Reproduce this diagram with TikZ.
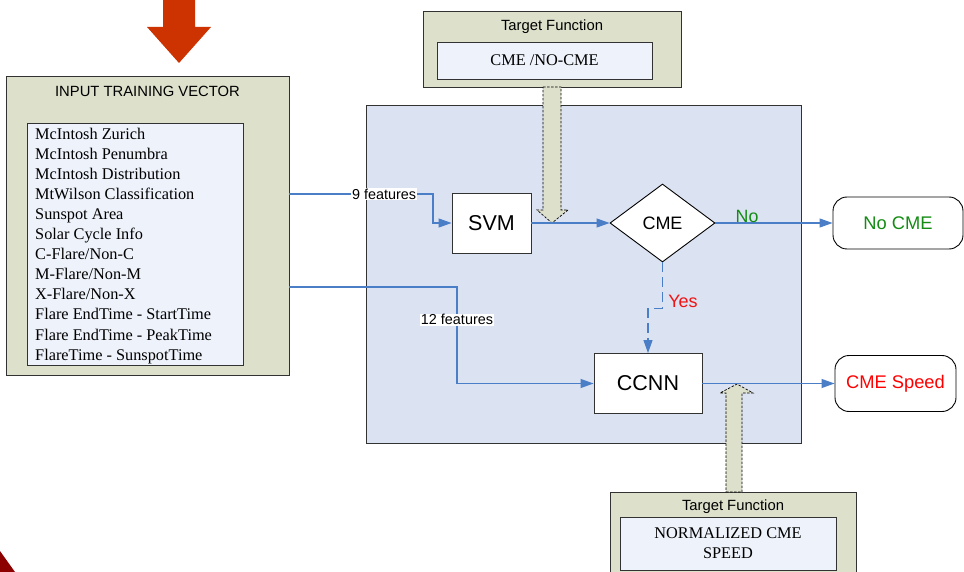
\documentclass[tikz,border=0pt]{standalone}
\usepackage{fontspec}
\setmainfont{Liberation Serif}
\setsansfont{Liberation Sans}
\usetikzlibrary{shapes.geometric,arrows.meta}
\definecolor{olivebox}{RGB}{221,224,203}
\definecolor{innerbox}{RGB}{238,242,250}
\definecolor{regionblue}{RGB}{219,226,241}
\definecolor{lineblue}{RGB}{74,126,198}
\definecolor{bigred}{RGB}{204,51,0}
\definecolor{darkred}{RGB}{140,0,0}
\definecolor{nogreen}{RGB}{20,140,20}
\definecolor{yesred}{RGB}{240,20,20}
\definecolor{edgegray}{RGB}{50,50,50}
\begin{document}
\begin{tikzpicture}[x=1pt,y=-1pt,
  outerbox/.style={draw=edgegray, line width=0.9pt, fill=olivebox, inner sep=0pt},
  innerbx/.style={draw=edgegray, line width=0.9pt, fill=innerbox, inner sep=0pt},
  procbox/.style={draw=edgegray, line width=0.9pt, fill=white, inner sep=0pt, font=\fontsize{21.5}{24}\sffamily},
  termbox/.style={draw=black, line width=0.9pt, fill=white, rounded corners=14pt, inner sep=0pt, font=\fontsize{18.3}{21}\sffamily},
  conn/.style={draw=lineblue, line width=1.1pt, -{Triangle[length=13pt,width=9pt]}},
  flbl/.style={fill=white, inner sep=1pt, font=\fontsize{14.4}{16}\sffamily},
  hdr/.style={inner sep=0pt, font=\fontsize{14.8}{17}\sffamily},
  serif16/.style={inner sep=0pt, font=\fontsize{16.3}{20.1}\rmfamily},
  hollow/.style={draw=black, dashed, dash pattern=on 2.5pt off 1.5pt, line width=0.7pt, fill=olivebox}
]
\useasboundingbox (0,0) rectangle (964,572);
\clip (0,0) rectangle (964,572);

% big red arrow
\fill[bigred] (163,0) -- (195,0) -- (195,27) -- (211,27) -- (179,63) -- (147,27) -- (163,27) -- cycle;
% dark red corner
\fill[darkred] (0,551) -- (15,572) -- (0,572) -- cycle;

% processing region
\node[draw=edgegray, line width=0.9pt, fill=regionblue, minimum width=435pt, minimum height=338pt, inner sep=0pt] (region) at (583.5,274) {};

% input training vector
\node[outerbox, minimum width=283pt, minimum height=299pt] (input) at (147.5,225.5) {};
\node[hdr] (inputtitle) at (147.5,91) {INPUT TRAINING VECTOR};
\node[innerbx, minimum width=216pt, minimum height=242pt] (listbox) at (135,244) {};
\node[serif16, anchor=north west, align=left] (list) at (35,127.5) {McIntosh Zurich\\McIntosh Penumbra\\McIntosh Distribution\\MtWilson Classification\\Sunspot Area\\Solar Cycle Info\\C-Flare/Non-C\\M-Flare/Non-M\\X-Flare/Non-X\\Flare EndTime - StartTime\\Flare EndTime - PeakTime\\FlareTime - SunspotTime};

% top target function
\node[outerbox, minimum width=258pt, minimum height=76pt] (tf1) at (552,49) {};
\node[hdr] (tf1title) at (552,27) {Target Function};
\node[innerbx, minimum width=215pt, minimum height=37pt, serif16] (tf1val) at (544.5,60.5) {CME /NO-CME};

% bottom target function
\node[outerbox, minimum width=246pt, minimum height=120pt] (tf2) at (733,552) {};
\node[hdr] (tf2title) at (733,507) {Target Function};
\node[innerbx, minimum width=216pt, minimum height=53pt] (tf2val) at (728,543.5) {};
\node[serif16, align=center, font=\fontsize{16.3}{20}\rmfamily] (tf2text) at (728,543.5) {NORMALIZED CME\\SPEED};

% hollow arrows
\draw[hollow] (543,87) -- (561,87) -- (561,210) -- (568,210) -- (552,223) -- (537,210) -- (543,210) -- cycle;
\draw[hollow] (726,492) -- (742,492) -- (742,393) -- (753,393) -- (737,384) -- (720,393) -- (726,393) -- cycle;

% process nodes
\node[procbox, minimum width=79pt, minimum height=60pt] (svm) at (491.5,223) {SVM};
\node[draw=black, line width=0.9pt, fill=white, diamond, minimum width=105pt, minimum height=78pt, inner sep=0pt, font=\fontsize{18}{21}\sffamily] (cme) at (662.5,223) {CME};
\node[procbox, minimum width=108pt, minimum height=60pt] (ccnn) at (648,383.5) {CCNN};
\node[termbox, minimum width=130pt, minimum height=52pt, text=nogreen] (nocme) at (898,223) {No CME};
\node[termbox, minimum width=121pt, minimum height=56pt, text=red] (speed) at (895.5,383.5) {CME Speed};
\node[inner sep=1pt, text=yesred, font=\fontsize{18}{20}\sffamily] (yes) at (683,301) {Yes};

% connectors
\draw[conn] (input.north east |- 0,194) -- node[flbl, pos=0.66] {9 features} (433,194) |- (svm.west);
\draw[conn] (input.north east |- 0,287) -- (457,287) |- node[flbl, pos=0.17] {12 features} (ccnn.west);
\draw[conn] (svm.east) -- (cme.west);
\draw[conn] (cme.east) -- node[pos=0.27, above=-1pt, inner sep=1pt, text=nogreen, font=\fontsize{17.8}{20}\sffamily] {No} (nocme.west);
\draw[conn, dash pattern=on 10pt off 5pt] (cme.south) -- ++(0,46) -| (ccnn.north);
\draw[conn] (ccnn.east) -- (speed.west);
\end{tikzpicture}
\end{document}
